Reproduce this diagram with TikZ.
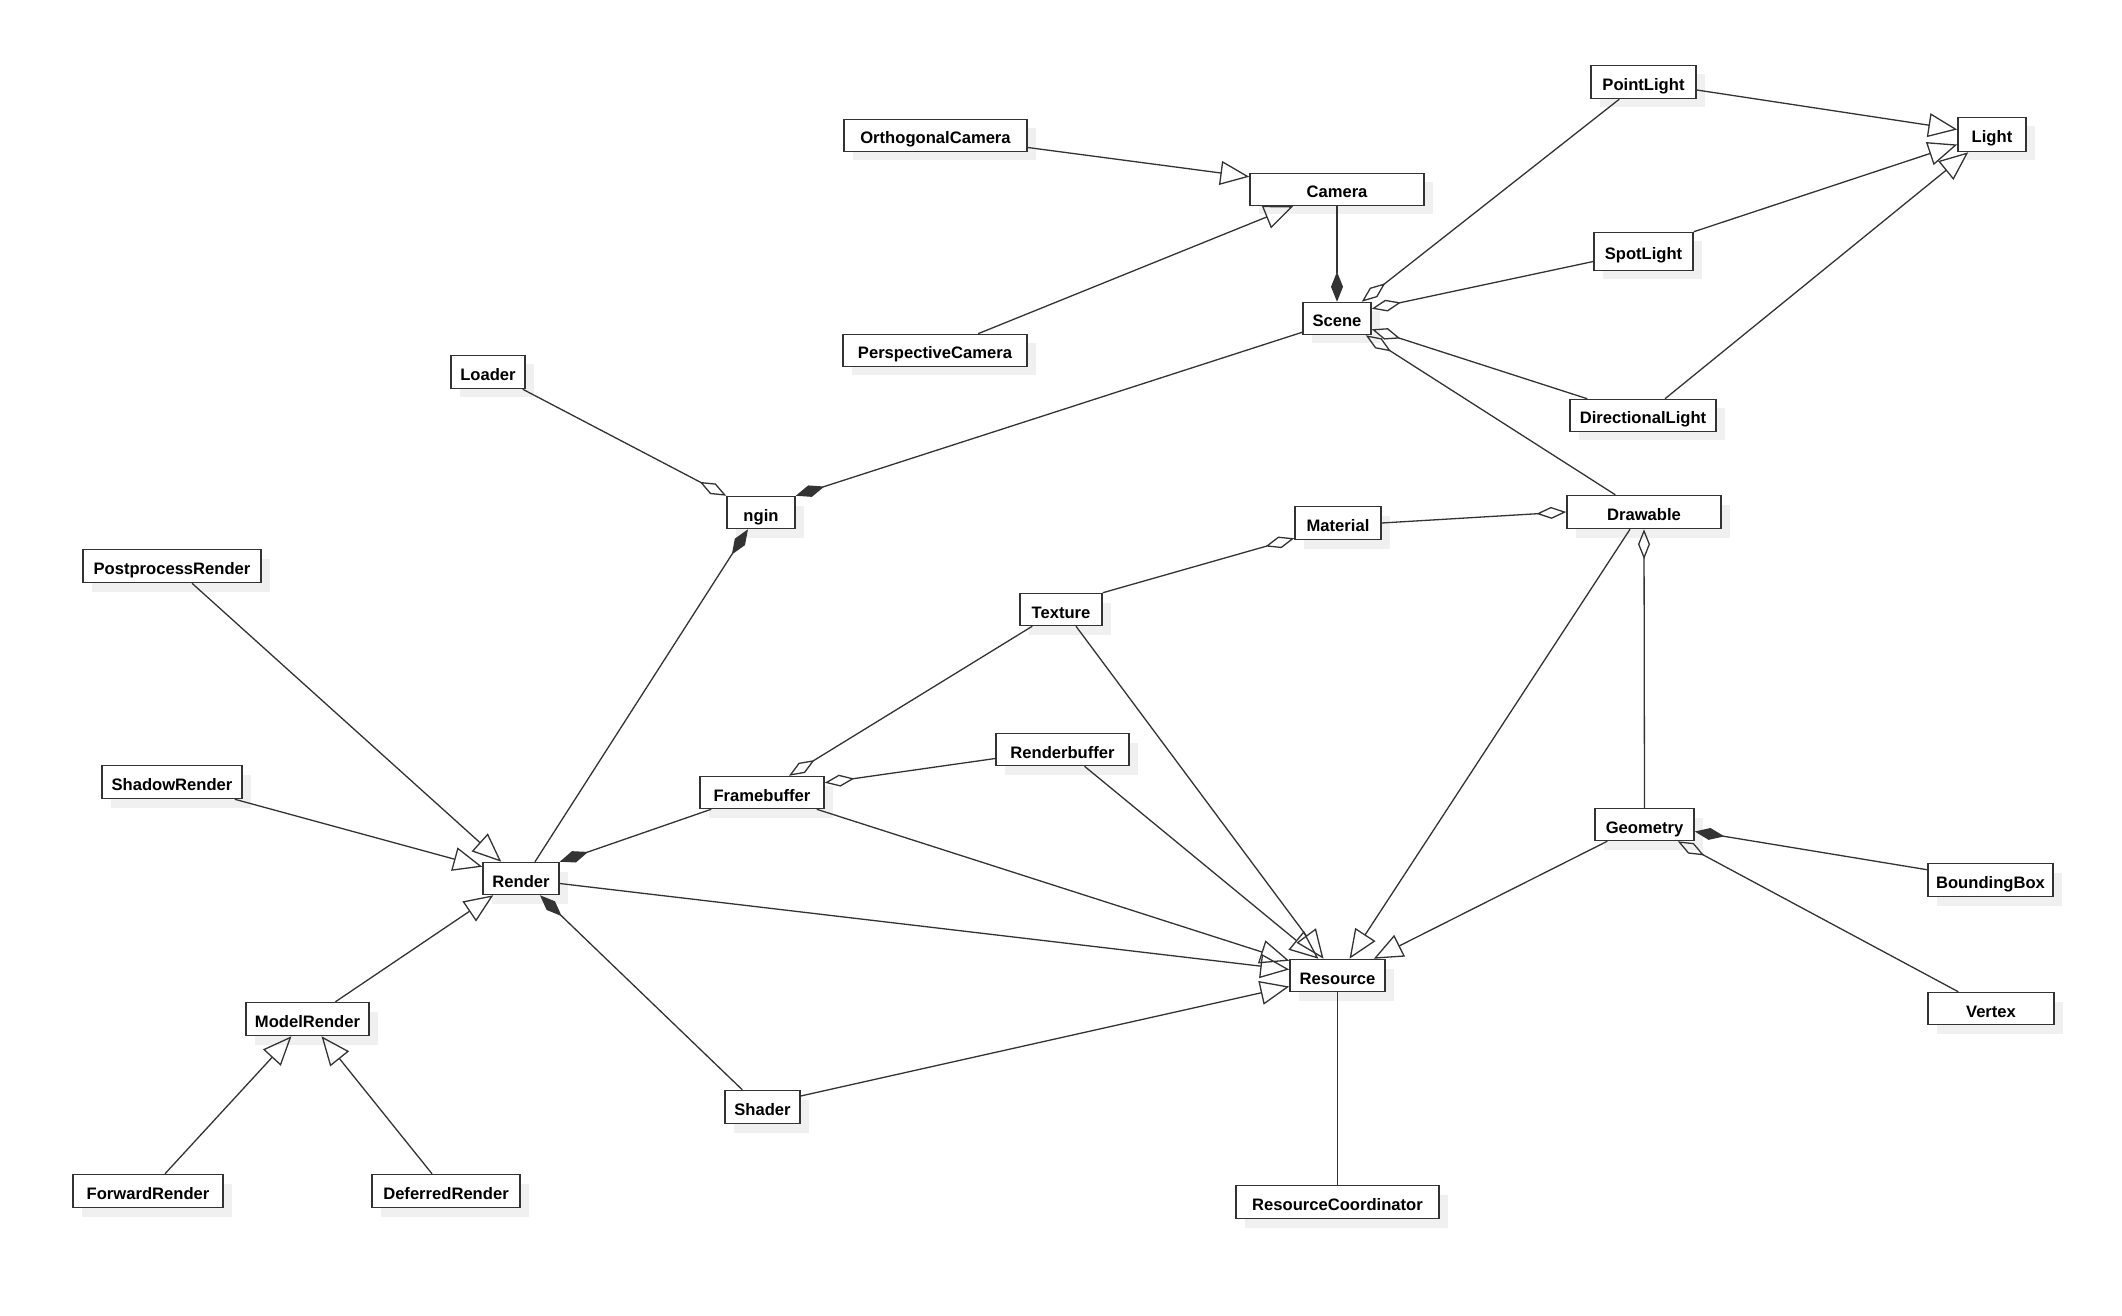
\documentclass[tikz,border=0pt]{standalone}
\usepackage{fontspec}
\setmainfont{Liberation Sans}
\usetikzlibrary{arrows.meta,shadows}
\definecolor{edgecol}{HTML}{333333}
\definecolor{boxcol}{HTML}{333333}
\definecolor{shadowcol}{HTML}{F0F0F0}
\begin{document}
\begin{tikzpicture}[x=0.5pt,y=-0.5pt,
  cls/.style={draw=boxcol, line width=0.75pt, fill=white, inner sep=0pt,
    text height=9pt, text depth=0.5pt,
    font=\fontsize{8.3}{10}\selectfont\bfseries,
    drop shadow={shadow xshift=4.5pt, shadow yshift=-4.5pt, fill=shadowcol, opacity=1, draw=none}},
  conn/.style={draw=edgecol, line width=0.65pt},
  gen/.style={conn, -{Triangle[open, length=14.5pt, width=12pt, line width=0.65pt]}},
  comp/.style={conn, {Diamond[length=15pt, width=6pt]}-},
  aggr/.style={conn, {Diamond[open, length=15pt, width=6pt, line width=0.65pt]}-},
  assoc/.style={conn}]
\useasboundingbox[fill=white] (0,-1.5) rectangle (2122,1314.5);

% nodes
\node[cls, minimum width=52.5pt, minimum height=16.5pt] (PointLight) at (1643.5,80.5) {PointLight};
\node[cls, minimum width=34pt, minimum height=17pt] (Light) at (1992,133) {Light};
\node[cls, minimum width=91.5pt, minimum height=16pt] (Ortho) at (935.5,134) {OrthogonalCamera};
\node[cls, minimum width=87pt, minimum height=16pt] (Camera) at (1337,188) {Camera};
\node[cls, minimum width=49.5pt, minimum height=19pt] (SpotLight) at (1643.5,250) {SpotLight};
\node[cls, minimum width=34pt, minimum height=16pt] (Scene) at (1337,317) {Scene};
\node[cls, minimum width=92pt, minimum height=16pt] (Persp) at (935,349) {PerspectiveCamera};
\node[cls, minimum width=37pt, minimum height=16.5pt] (Loader) at (488,370.5) {Loader};
\node[cls, minimum width=73pt, minimum height=16pt] (DirLight) at (1643,414) {DirectionalLight};
\node[cls, minimum width=34pt, minimum height=16pt] (ngin) at (761,511) {ngin};
\node[cls, minimum width=43pt, minimum height=16.5pt] (Material) at (1338,521.5) {Material};
\node[cls, minimum width=77pt, minimum height=16.5pt] (Drawable) at (1644,510.5) {Drawable};
\node[cls, minimum width=89pt, minimum height=16.5pt] (Postprocess) at (172,564.5) {PostprocessRender};
\node[cls, minimum width=41pt, minimum height=16pt] (Texture) at (1061,608) {Texture};
\node[cls, minimum width=66.5pt, minimum height=16pt] (Renderbuffer) at (1062.5,748) {Renderbuffer};
\node[cls, minimum width=70pt, minimum height=16.5pt] (ShadowR) at (172,780.5) {ShadowRender};
\node[cls, minimum width=62pt, minimum height=16pt] (Framebuffer) at (762,791) {Framebuffer};
\node[cls, minimum width=49.5pt, minimum height=16pt] (Geometry) at (1644.5,823) {Geometry};
\node[cls, minimum width=38pt, minimum height=16pt] (Render) at (521,877) {Render};
\node[cls, minimum width=62.5pt, minimum height=16.5pt] (BoundingBox) at (1990.5,878.5) {BoundingBox};
\node[cls, minimum width=47.5pt, minimum height=16pt] (Resource) at (1337.5,974) {Resource};
\node[cls, minimum width=63pt, minimum height=16pt] (Vertex) at (1991,1007) {Vertex};
\node[cls, minimum width=61.5pt, minimum height=16.5pt] (ModelRender) at (307.5,1017.5) {ModelRender};
\node[cls, minimum width=37.5pt, minimum height=16.5pt] (Shader) at (762.5,1105.5) {Shader};
\node[cls, minimum width=75pt, minimum height=16.5pt] (Forward) at (148,1189.5) {ForwardRender};
\node[cls, minimum width=74pt, minimum height=16.5pt] (Deferred) at (446,1189.5) {DeferredRender};
\node[cls, minimum width=101.5pt, minimum height=16.5pt] (ResCoord) at (1337.5,1200.5) {ResourceCoordinator};

% generalizations
\draw[gen] ([yshift=-6pt]Ortho.east) -- ([yshift=-2pt]Camera.north west);
\draw[gen] ([xshift=21.5pt]Persp.north) -- ([xshift=22pt]Camera.south west);
\draw[gen] ([yshift=-4pt]PointLight.east) -- ([yshift=2.5pt]Light.west);
\draw[gen] (SpotLight.north east) -- ([yshift=-5pt]Light.west);
\draw[gen] ([xshift=11pt]DirLight.north) -- ([xshift=5.5pt]Light.south west);
\draw[gen] ([xshift=10pt]Postprocess.south) -- ([xshift=9.5pt]Render.north west);
\draw[gen] ([xshift=-4pt]ShadowR.south east) -- ([yshift=-2.5pt]Render.north west);
\draw[gen] ([xshift=14pt]ModelRender.north) -- ([xshift=5.5pt]Render.south west);
\draw[gen] ([xshift=8.5pt]Forward.north) -- ([xshift=-8pt]ModelRender.south);
\draw[gen] ([xshift=-7pt]Deferred.north) -- ([xshift=7pt]ModelRender.south);
\draw[gen] ([yshift=-2.5pt]Render.east) -- ([yshift=3pt]Resource.west);
\draw[gen] ([xshift=-4pt]Framebuffer.south east) -- ([yshift=-1pt]Resource.north west);
\draw[gen] ([yshift=5.5pt]Shader.east) -- ([yshift=-5.5pt]Resource.west);
\draw[gen] ([xshift=11pt]Renderbuffer.south) -- ([xshift=-9.5pt]Resource.north);
\draw[gen] ([xshift=7.5pt]Texture.south) -- ([xshift=-7pt]Resource.north);
\draw[gen] ([xshift=-7pt]Drawable.south) -- ([xshift=6pt]Resource.north);
\draw[gen] ([xshift=6.5pt]Geometry.south west) -- ([xshift=-6pt]Resource.north east);

% compositions
\draw[comp] (Scene.north) -- (Camera.south);
\draw[comp] (ngin.north east) -- ([yshift=1.5pt]Scene.south west);
\draw[comp] ([xshift=-6.5pt]ngin.south) -- ([xshift=7pt]Render.north);
\draw[comp] (Render.north east) -- ([xshift=6pt]Framebuffer.south west);
\draw[comp] ([xshift=9.5pt]Render.south) -- ([xshift=9pt]Shader.north west);
\draw[comp] ([yshift=-3.5pt]Geometry.east) -- ([yshift=-3.5pt]BoundingBox.north west);

% aggregations
\draw[aggr] ([xshift=-5pt]Scene.north east) -- ([xshift=14.5pt]PointLight.south west);
\draw[aggr] ([yshift=-3.5pt]Scene.north east) -- ([yshift=-5pt]SpotLight.west);
\draw[aggr] ([yshift=3pt]Scene.south east) -- ([xshift=9pt]DirLight.north west);
\draw[aggr] ([xshift=-3pt]Scene.south east) -- ([xshift=24.5pt]Drawable.north west);
\draw[aggr] (ngin.north west) -- ([xshift=-1.5pt]Loader.south east);
\draw[aggr] ([yshift=1pt]Material.south west) -- (Texture.north east);
\draw[aggr] (Drawable.west) -- (Material.east);
\draw[aggr] (Drawable.south) -- (Geometry.north);
\draw[aggr] ([xshift=13.5pt]Framebuffer.north) -- ([xshift=6.5pt]Texture.south west);
\draw[aggr] ([yshift=-3.5pt]Framebuffer.north east) -- ([yshift=-4.5pt]Renderbuffer.west);
\draw[aggr] ([xshift=-8.5pt]Geometry.south east) -- ([xshift=15.5pt]Vertex.north west);

% association
\draw[assoc] (Resource.south) -- (ResCoord.north);
\end{tikzpicture}
\end{document}
